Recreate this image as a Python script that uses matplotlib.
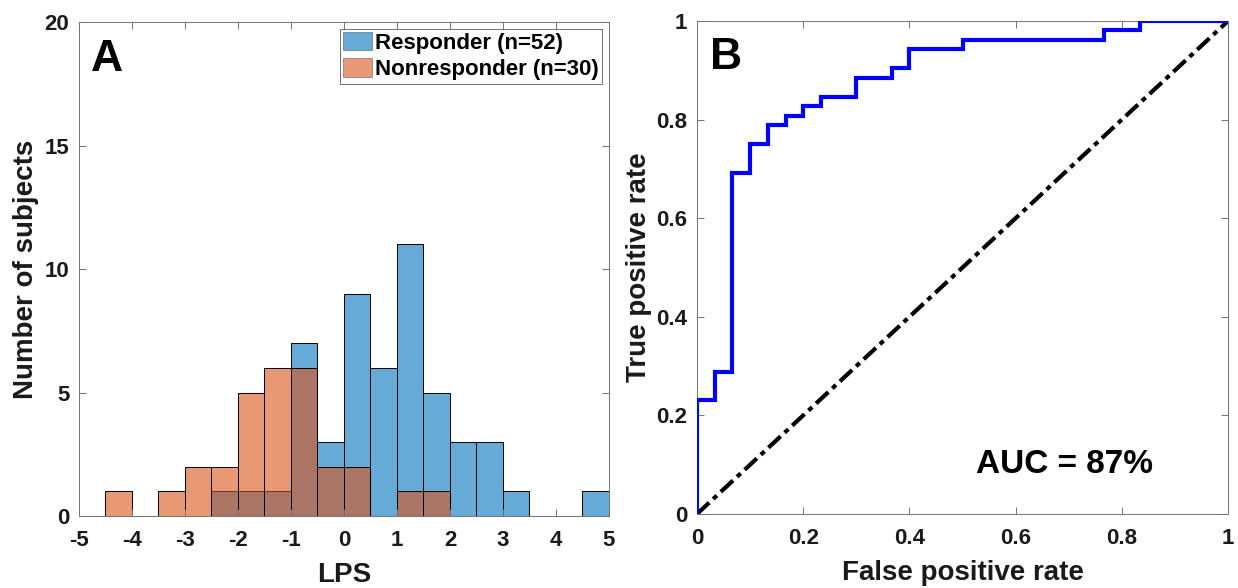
import numpy as np
import matplotlib.pyplot as plt

# histogram of LPS (bins 0.5 wide)
bin_edges = [-5.0, -4.5, -4.0, -3.5, -3.0, -2.5, -2.0, -1.5, -1.0, -0.5, 0.0,
             0.5, 1.0, 1.5, 2.0, 2.5, 3.0, 3.5, 4.0, 4.5, 5.0]
responder_counts = [0, 0, 0, 0, 0, 1, 1, 1, 7, 3, 9, 6, 11, 5, 3, 3, 1, 0, 0, 1]
nonresponder_counts = [0, 1, 0, 1, 2, 2, 5, 6, 6, 2, 2, 0, 1, 1, 0, 0, 0, 0, 0, 0]
n_resp = 52
n_nonresp = 30

# ROC curve corners, as counts of false / true positives
fp_counts = [0, 0, 1, 2, 3, 4, 5, 6, 7, 9, 11, 12, 15, 23, 25, 30]
tp_counts = [0, 12, 15, 36, 39, 41, 42, 43, 44, 46, 47, 49, 50, 51, 52, 52]
auc_text = "AUC = 87%"

blue = (0.0, 0.447, 0.741)
orange = (0.85, 0.325, 0.098)
spine_col = "0.45"
txt_col = "#1a1a1a"

plt.rcParams["font.family"] = ["Liberation Sans", "DejaVu Sans"]
plt.rcParams["font.weight"] = "bold"
plt.rcParams["axes.unicode_minus"] = False

fig = plt.figure(figsize=(12.38, 5.88), dpi=100)
ax1 = fig.add_axes([0.0638, 0.1224, 0.4281, 0.8402])
ax2 = fig.add_axes([0.563, 0.1259, 0.429, 0.8384])


def style_axes(ax):
    for s in ax.spines.values():
        s.set_color(spine_col)
        s.set_linewidth(0.7)
    ax.tick_params(direction="in", length=5, width=0.7, color=spine_col,
                   labelsize=16, labelcolor=txt_col, top=True, right=True)
    ax.tick_params(axis="x", pad=10)
    ax.tick_params(axis="y", pad=7)
    for lab in ax.get_xticklabels() + ax.get_yticklabels():
        lab.set_fontweight("bold")


# panel A
edges = np.array(bin_edges)
widths = np.diff(edges)
ax1.bar(edges[:-1], responder_counts, width=widths, align="edge",
        color=blue, alpha=0.6, edgecolor="none",
        label="Responder (n=%d)" % n_resp)
ax1.bar(edges[:-1], responder_counts, width=widths, align="edge",
        fill=False, edgecolor="k", lw=0.7)
ax1.bar(edges[:-1], nonresponder_counts, width=widths, align="edge",
        color=orange, alpha=0.6, edgecolor="none",
        label="Nonresponder (n=%d)" % n_nonresp)
ax1.bar(edges[:-1], nonresponder_counts, width=widths, align="edge",
        fill=False, edgecolor="k", lw=0.7)
ax1.set_xlim(-5, 5)
ax1.set_ylim(0, 20)
ax1.set_xticks(range(-5, 6))
ax1.set_yticks([0, 5, 10, 15, 20])
style_axes(ax1)
ax1.set_xlabel("LPS", fontsize=20, fontweight="bold", color=txt_col,
               labelpad=8)
ax1.set_ylabel("Number of subjects", fontsize=20, fontweight="bold",
               color=txt_col, labelpad=4)
leg = ax1.legend(loc="upper right", fontsize=16, frameon=True, fancybox=False,
                 handlelength=1.3, handleheight=0.9, handletextpad=0.15,
                 borderpad=0.15, borderaxespad=0.3, labelspacing=0.2)
leg.get_frame().set_edgecolor("0.3")
leg.get_frame().set_linewidth(0.7)
for h in leg.legend_handles:
    h.set_edgecolor("0.3")
    h.set_linewidth(0.6)
for t in leg.get_texts():
    t.set_fontweight("bold")
ax1.text(0.022, 0.925, "A", transform=ax1.transAxes, fontsize=32,
         fontweight="bold", va="center", ha="left")

# panel B
fpr = np.array(fp_counts) / n_nonresp
tpr = np.array(tp_counts) / n_resp
ax2.plot(fpr, tpr, drawstyle="steps-post", color=(0, 0, 1), lw=3,
         solid_joinstyle="miter", zorder=3)
ax2.plot([0, 1], [0, 1], color="k", lw=3, ls=(0, (4, 1.3, 1.2, 1.3)))
ax2.set_xlim(0, 1)
ax2.set_ylim(0, 1)
ticks = [0, 0.2, 0.4, 0.6, 0.8, 1]
tick_labels = ["0", "0.2", "0.4", "0.6", "0.8", "1"]
ax2.set_xticks(ticks)
ax2.set_xticklabels(tick_labels)
ax2.set_yticks(ticks)
ax2.set_yticklabels(tick_labels)
style_axes(ax2)
ax2.set_xlabel("False positive rate", fontsize=20, fontweight="bold",
               color=txt_col, labelpad=8)
ax2.set_ylabel("True positive rate", fontsize=20, fontweight="bold",
               color=txt_col, labelpad=3)
ax2.text(0.025, 0.925, "B", transform=ax2.transAxes, fontsize=32,
         fontweight="bold", va="center", ha="left")
ax2.text(0.525, 0.1, auc_text, transform=ax2.transAxes, fontsize=24,
         fontweight="bold", va="center", ha="left")

fig.savefig("out.png", dpi=100)
